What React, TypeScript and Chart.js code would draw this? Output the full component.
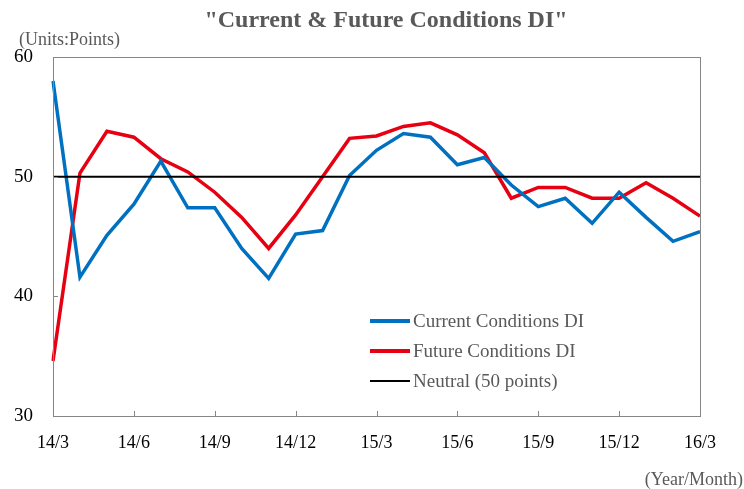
import React, { useEffect, useRef } from "react";
import { Chart, registerables } from "chart.js";

Chart.register(...registerables);

const months: string[] = [
  "14/3", "14/4", "14/5", "14/6", "14/7", "14/8", "14/9", "14/10", "14/11", "14/12",
  "15/1", "15/2", "15/3", "15/4", "15/5", "15/6", "15/7", "15/8", "15/9", "15/10",
  "15/11", "15/12", "16/1", "16/2", "16/3",
];
const shownTickLabels: string[] = ["14/3", "14/6", "14/9", "14/12", "15/3", "15/6", "15/9", "15/12", "16/3"];

const currentDI: number[] = [
  58.0, 41.6, 45.1, 47.7, 51.3, 47.4, 47.4, 44.0, 41.5, 45.2,
  45.5, 50.1, 52.2, 53.6, 53.3, 51.0, 51.6, 49.3, 47.5, 48.2,
  46.1, 48.7, 46.6, 44.6, 45.4,
];
const futureDI: number[] = [
  34.6, 50.3, 53.8, 53.3, 51.5, 50.4, 48.7, 46.6, 44.0, 46.8,
  50.0, 53.2, 53.4, 54.2, 54.5, 53.5, 52.0, 48.2, 49.1, 49.1,
  48.2, 48.2, 49.5, 48.2, 46.7,
];
const neutral: number[] = months.map(() => 50);

const seriesNames: string[] = ["Current Conditions DI", "Future Conditions DI", "Neutral (50 points)"];
const yTicks: number[] = [30, 40, 50, 60];

const FONT = "'Liberation Serif', 'Times New Roman', serif";
const BLUE = "#0070C0";
const RED = "#E60012";
const GRAY_TEXT = "#595959";

export default function App() {
  const ref = useRef<HTMLCanvasElement | null>(null);

  useEffect(() => {
    document.body.style.margin = "0";
    const canvas = ref.current;
    if (!canvas) return;

    const decor = {
      id: "decor",
      afterDraw(chart: any) {
        const ctx = chart.ctx;
        const area = chart.chartArea;
        const xs = chart.scales.x;
        const ys = chart.scales.y;
        ctx.save();
        // border
        ctx.strokeStyle = "#868686";
        ctx.lineWidth = 1;
        ctx.strokeRect(Math.round(area.left) + 0.5, Math.round(area.top) + 0.5,
          Math.round(area.right - area.left), Math.round(area.bottom - area.top));
        // x tick marks (inside)
        months.forEach((m, i) => {
          if (shownTickLabels.includes(m) && i > 0 && i < months.length - 1) {
            const x = Math.round(xs.getPixelForValue(i)) + 0.5;
            ctx.beginPath();
            ctx.moveTo(x, area.bottom);
            ctx.lineTo(x, area.bottom - 5);
            ctx.stroke();
          }
        });
        // y tick marks (inside)
        yTicks.forEach((v) => {
          if (v > 30 && v < 60) {
            const y = Math.round(ys.getPixelForValue(v)) + 0.5;
            ctx.beginPath();
            ctx.moveTo(area.left, y);
            ctx.lineTo(area.left + 5, y);
            ctx.stroke();
          }
        });
        // title
        ctx.fillStyle = GRAY_TEXT;
        ctx.font = `bold 24px ${FONT}`;
        ctx.textAlign = "center";
        ctx.textBaseline = "middle";
        ctx.fillText('"Current & Future Conditions DI"', 386, 21);
        // units
        ctx.font = `18px ${FONT}`;
        ctx.textAlign = "left";
        ctx.fillText("(Units:Points)", 19, 40);
        // year/month
        ctx.textAlign = "right";
        ctx.fillText("(Year/Month)", 743, 480);
        // legend
        const colors = [BLUE, RED, "#000000"];
        const widths = [4, 4, 2];
        const rows = [321, 351, 381];
        ctx.font = `19px ${FONT}`;
        ctx.textAlign = "left";
        seriesNames.forEach((name, i) => {
          ctx.strokeStyle = colors[i];
          ctx.lineWidth = widths[i];
          ctx.beginPath();
          ctx.moveTo(370, rows[i]);
          ctx.lineTo(410, rows[i]);
          ctx.stroke();
          ctx.fillStyle = GRAY_TEXT;
          ctx.fillText(name, 413, rows[i] + 1);
        });
        ctx.restore();
      },
    };

    const chart = new Chart(canvas, {
      type: "line",
      data: {
        labels: months,
        datasets: [
          { label: seriesNames[2], data: neutral, borderColor: "#000000", borderWidth: 2, pointRadius: 0, order: 0 },
          { label: seriesNames[0], data: currentDI, borderColor: BLUE, borderWidth: 3.5, pointRadius: 0, order: 1 },
          { label: seriesNames[1], data: futureDI, borderColor: RED, borderWidth: 3.5, pointRadius: 0, order: 2 },
        ],
      },
      options: {
        animation: false,
        responsive: true,
        maintainAspectRatio: false,
        layout: { padding: { top: 57, right: 44, left: 0, bottom: 0 } },
        plugins: { legend: { display: false }, title: { display: false }, tooltip: { enabled: false } },
        elements: { line: { tension: 0, borderJoinStyle: "miter" } },
        scales: {
          x: {
            type: "category",
            offset: false,
            grid: { display: false, drawTicks: false },
            border: { display: false },
            ticks: {
              autoSkip: false,
              maxRotation: 0,
              minRotation: 0,
              padding: 16,
              color: "#000000",
              font: { family: FONT, size: 18 },
              callback: (_v: any, i: number) => (shownTickLabels.includes(months[i]) ? months[i] : null),
            },
            afterFit: (s: any) => { s.height = 73; },
          },
          y: {
            min: 30,
            max: 60,
            grid: { display: false, drawTicks: false },
            border: { display: false },
            ticks: {
              stepSize: 10,
              padding: 20,
              color: "#000000",
              font: { family: FONT, size: 19 },
            },
            afterFit: (s: any) => { s.width = 53; },
          },
        },
      },
      plugins: [decor],
    });

    return () => chart.destroy();
  }, []);

  return (
    <div style={{ position: "relative", width: 744, height: 489 }}>
      <canvas ref={ref} />
    </div>
  );
}
